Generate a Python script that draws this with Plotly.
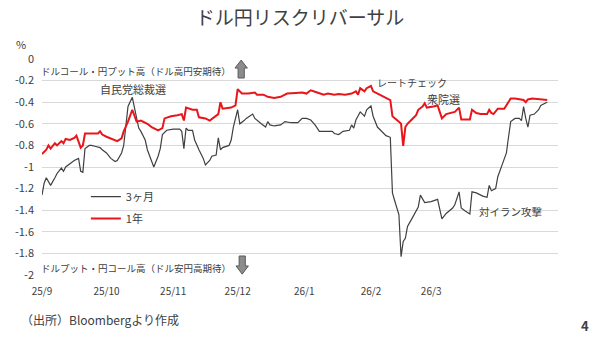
import plotly.graph_objects as go

# ---- data ----
dates_3m = [
    "2025-09-01","2025-09-02","2025-09-03","2025-09-04","2025-09-05","2025-09-07","2025-09-08",
    "2025-09-10","2025-09-11","2025-09-12","2025-09-14","2025-09-16","2025-09-18","2025-09-19",
    "2025-09-20","2025-09-21","2025-09-23","2025-09-24","2025-09-26","2025-09-28","2025-09-29",
    "2025-10-01","2025-10-03","2025-10-05","2025-10-06","2025-10-08","2025-10-09","2025-10-10",
    "2025-10-11","2025-10-13","2025-10-14","2025-10-16","2025-10-17","2025-10-19","2025-10-20",
    "2025-10-21","2025-10-23","2025-10-25","2025-10-26","2025-10-27","2025-10-29","2025-11-01",
    "2025-11-04","2025-11-05","2025-11-06","2025-11-07","2025-11-08","2025-11-10","2025-11-11",
    "2025-11-13","2025-11-15","2025-11-16","2025-11-18","2025-11-19","2025-11-21","2025-11-22",
    "2025-11-23","2025-11-24","2025-11-27","2025-11-28","2025-11-29","2025-12-01","2025-12-02",
    "2025-12-04","2025-12-05","2025-12-08","2025-12-09","2025-12-12","2025-12-14","2025-12-15",
    "2025-12-16","2025-12-18","2025-12-21","2025-12-23","2025-12-26","2025-12-29","2025-12-31",
    "2026-01-02","2026-01-04","2026-01-06","2026-01-08","2026-01-11","2026-01-14","2026-01-15",
    "2026-01-17","2026-01-19","2026-01-22","2026-01-23","2026-01-24","2026-01-25","2026-01-27",
    "2026-01-29","2026-01-30","2026-02-01","2026-02-02","2026-02-04","2026-02-06","2026-02-08",
    "2026-02-10","2026-02-11","2026-02-12","2026-02-13","2026-02-14","2026-02-15","2026-02-16",
    "2026-02-17","2026-02-18","2026-02-20","2026-02-22","2026-02-23","2026-02-24","2026-02-26",
    "2026-03-01","2026-03-04","2026-03-06","2026-03-08","2026-03-11","2026-03-12","2026-03-14",
    "2026-03-15","2026-03-17","2026-03-19","2026-03-20","2026-03-22","2026-03-25","2026-03-27",
    "2026-03-28","2026-03-29","2026-03-31","2026-04-01","2026-04-03","2026-04-05","2026-04-06",
    "2026-04-07","2026-04-09","2026-04-11","2026-04-12","2026-04-13","2026-04-14","2026-04-15",
    "2026-04-16","2026-04-18","2026-04-20","2026-04-21","2026-04-23","2026-04-24",
]
rr_3m = [
    -1.26,-1.15,-1.10,-1.14,-1.17,-1.10,-1.06,
    -1.01,-1.04,-1.00,-0.97,-0.94,-0.92,-1.04,
    -1.05,-0.83,-0.80,-0.80,-0.81,-0.82,-0.84,
    -0.87,-0.92,-0.95,-0.94,-0.87,-0.80,-0.63,
    -0.44,-0.355,-0.44,-0.64,-0.67,-0.75,-0.84,
    -0.89,-1.00,-0.90,-0.83,-0.70,-0.66,-0.65,
    -0.65,-0.67,-0.83,-0.64,-0.66,-0.66,-0.75,
    -0.84,-0.92,-0.98,-0.94,-0.90,-0.89,-0.73,
    -0.84,-0.82,-0.80,-0.75,-0.63,-0.47,-0.60,
    -0.57,-0.55,-0.51,-0.55,-0.60,-0.63,-0.58,
    -0.61,-0.62,-0.61,-0.58,-0.59,-0.59,-0.55,
    -0.55,-0.565,-0.61,-0.67,-0.67,-0.67,-0.69,
    -0.70,-0.67,-0.66,-0.61,-0.64,-0.565,-0.49,
    -0.53,-0.47,-0.435,-0.53,-0.63,-0.67,-0.71,
    -0.725,-1.24,-1.31,-1.37,-1.44,-1.83,-1.69,
    -1.66,-1.55,-1.48,-1.40,-1.37,-1.26,-1.33,
    -1.32,-1.30,-1.48,-1.43,-1.38,-1.35,-1.23,
    -1.38,-1.41,-1.435,-1.23,-1.24,-1.27,-1.28,
    -1.17,-1.22,-1.20,-1.09,-0.98,-0.87,-0.72,
    -0.58,-0.55,-0.55,-0.57,-0.44,-0.55,-0.63,
    -0.52,-0.51,-0.47,-0.43,-0.41,-0.40,
]

dates_1y = [
    "2025-09-01","2025-09-03","2025-09-04","2025-09-05","2025-09-07","2025-09-08","2025-09-10",
    "2025-09-11","2025-09-12","2025-09-14","2025-09-16","2025-09-17","2025-09-19","2025-09-20",
    "2025-09-21","2025-09-23","2025-09-25","2025-09-27","2025-09-28","2025-09-29","2025-10-01",
    "2025-10-04","2025-10-06","2025-10-08","2025-10-09","2025-10-11","2025-10-13","2025-10-15",
    "2025-10-17","2025-10-20","2025-10-22","2025-10-25","2025-10-27","2025-10-28","2025-10-31",
    "2025-11-03","2025-11-05","2025-11-06","2025-11-07","2025-11-10","2025-11-12","2025-11-13",
    "2025-11-16","2025-11-18","2025-11-20","2025-11-22","2025-11-23","2025-11-24","2025-11-28",
    "2025-11-30","2025-12-01","2025-12-03","2025-12-06","2025-12-09","2025-12-10","2025-12-13",
    "2025-12-15","2025-12-18","2025-12-21","2025-12-24","2025-12-28","2025-12-31","2026-01-02",
    "2026-01-04","2026-01-07","2026-01-10","2026-01-12","2026-01-15","2026-01-17","2026-01-20",
    "2026-01-23","2026-01-25","2026-01-26","2026-01-27","2026-01-29","2026-01-30","2026-02-01",
    "2026-02-02","2026-02-05","2026-02-08","2026-02-10","2026-02-11","2026-02-13","2026-02-14",
    "2026-02-15","2026-02-16","2026-02-17","2026-02-18","2026-02-20","2026-02-22","2026-02-23",
    "2026-02-25","2026-02-26","2026-02-27","2026-03-02","2026-03-04","2026-03-05","2026-03-06",
    "2026-03-08","2026-03-11","2026-03-12","2026-03-14","2026-03-15","2026-03-17","2026-03-19",
    "2026-03-20","2026-03-22","2026-03-24","2026-03-25","2026-03-27","2026-03-28","2026-03-29",
    "2026-03-30","2026-04-01","2026-04-04","2026-04-05","2026-04-07","2026-04-09","2026-04-11",
    "2026-04-13","2026-04-14","2026-04-15","2026-04-17","2026-04-19","2026-04-21","2026-04-24",
]
rr_1y = [
    -0.88,-0.84,-0.80,-0.83,-0.78,-0.80,-0.76,
    -0.78,-0.74,-0.75,-0.73,-0.71,-0.82,-0.80,
    -0.69,-0.69,-0.69,-0.69,-0.67,-0.70,-0.72,
    -0.74,-0.76,-0.735,-0.67,-0.58,-0.47,-0.58,
    -0.57,-0.60,-0.63,-0.66,-0.64,-0.55,-0.53,
    -0.52,-0.51,-0.57,-0.45,-0.47,-0.47,-0.54,
    -0.55,-0.57,-0.54,-0.51,-0.40,-0.46,-0.45,
    -0.43,-0.28,-0.32,-0.32,-0.31,-0.33,-0.33,
    -0.35,-0.36,-0.35,-0.32,-0.315,-0.31,-0.32,
    -0.29,-0.31,-0.33,-0.32,-0.33,-0.325,-0.33,
    -0.32,-0.30,-0.33,-0.27,-0.30,-0.27,-0.25,
    -0.30,-0.33,-0.36,-0.38,-0.53,-0.56,-0.58,
    -0.60,-0.805,-0.63,-0.60,-0.56,-0.52,-0.47,
    -0.44,-0.41,-0.45,-0.44,-0.43,-0.49,-0.55,
    -0.51,-0.50,-0.49,-0.45,-0.56,-0.56,-0.56,
    -0.47,-0.50,-0.51,-0.51,-0.51,-0.47,-0.50,
    -0.51,-0.46,-0.46,-0.43,-0.365,-0.365,-0.37,
    -0.38,-0.40,-0.375,-0.365,-0.37,-0.375,-0.38,
]

series_names = ["3ヶ月", "1年"]
x_tick_vals = ["2025-09-01","2025-10-01","2025-11-01","2025-12-01","2026-01-01","2026-02-01","2026-03-01"]
x_tick_text = ["25/9","25/10","25/11","25/12","26/1","26/2","26/3"]
y_tick_vals = [0,-0.2,-0.4,-0.6,-0.8,-1,-1.2,-1.4,-1.6,-1.8,-2]
y_tick_text = ["0","-0.2","-0.4","-0.6","-0.8","-1","-1.2","-1.4","-1.6","-1.8","-2"]

FONT = "Noto Sans CJK JP, Noto Sans, sans-serif"
TXT = "#404040"

fig = go.Figure()
fig.add_trace(go.Scatter(x=dates_3m, y=rr_3m, mode="lines", name=series_names[0],
                         legendgroup="g1", line=dict(color="#404040", width=1.2)))
fig.add_trace(go.Scatter(x=dates_1y, y=rr_1y, mode="lines", name=series_names[1],
                         legendgroup="g2", line=dict(color="#e8161b", width=2)))

fig.update_layout(
    width=600, height=339,
    margin=dict(l=42, r=42, t=59, b=64),
    paper_bgcolor="white", plot_bgcolor="white",
    font=dict(family=FONT, color=TXT, size=11),
    title=dict(text="ドル円リスクリバーサル", x=0.5, xanchor="center", y=0.947, yanchor="middle",
               font=dict(size=19, color=TXT, family=FONT)),
    showlegend=True,
    legend=dict(x=0.085, y=0.43, xanchor="left", yanchor="top", bgcolor="rgba(0,0,0,0)",
                font=dict(size=11, color=TXT), itemwidth=30, tracegroupgap=3),
)
fig.update_xaxes(type="date", range=["2025-09-01", "2026-04-29"], tickvals=x_tick_vals,
                 ticktext=x_tick_text, showgrid=False, showline=False, zeroline=False,
                 ticks="", ticklabelstandoff=9, tickfont=dict(size=10, color=TXT))
fig.update_yaxes(range=[-2, 0], tickvals=y_tick_vals, ticktext=y_tick_text,
                 showgrid=True, gridcolor="#d9d9d9", gridwidth=1, zeroline=False,
                 showline=False, ticks="", ticklabelstandoff=7, tickfont=dict(size=11, color=TXT))

ann = [
    dict(text="ドルコール・円プット高（ドル高円安期待）", x=-0.006, y=0.944, xanchor="left", size=9.5),
    dict(text="ドルプット・円コール高（ドル安円高期待）", x=-0.006, y=0.032, xanchor="left", size=9.5),
    dict(text="自民党総裁選", x=0.176, y=0.861, xanchor="center", size=11),
    dict(text="レートチェック", x=0.645, y=0.889, xanchor="left", size=10),
    dict(text="衆院選", x=0.742, y=0.815, xanchor="left", size=11),
    dict(text="対イラン攻撃", x=0.843, y=0.292, xanchor="left", size=10.5),
    dict(text="（出所）Bloombergより作成", x=-0.045, y=-0.204, xanchor="left", size=12),
    dict(text="%", x=-0.04, y=1.068, xanchor="center", size=11),
]
for a in ann:
    sz = a.pop("size")
    fig.add_annotation(xref="paper", yref="paper", showarrow=False, yanchor="middle",
                       font=dict(size=sz, color=TXT, family=FONT), **a)
fig.add_annotation(xref="paper", yref="paper", showarrow=False, text="<b>4</b>",
                   x=1.052, y=-0.236, xanchor="center", yanchor="middle",
                   font=dict(size=13, color=TXT, family=FONT))

# block arrows
fig.add_shape(type="path", xref="paper", yref="paper",
              path="M 0.380,0.912 L 0.392,0.912 L 0.392,0.958 L 0.398,0.958 L 0.386,0.995 "
                   "L 0.374,0.958 L 0.380,0.958 Z",
              fillcolor="#8c8c8c", line=dict(color="#5a5a5a", width=1))
fig.add_shape(type="path", xref="paper", yref="paper",
              path="M 0.382,0.088 L 0.394,0.088 L 0.394,0.042 L 0.400,0.042 L 0.388,0.004 "
                   "L 0.376,0.042 L 0.382,0.042 Z",
              fillcolor="#8c8c8c", line=dict(color="#5a5a5a", width=1))

fig.write_html("out.html")
